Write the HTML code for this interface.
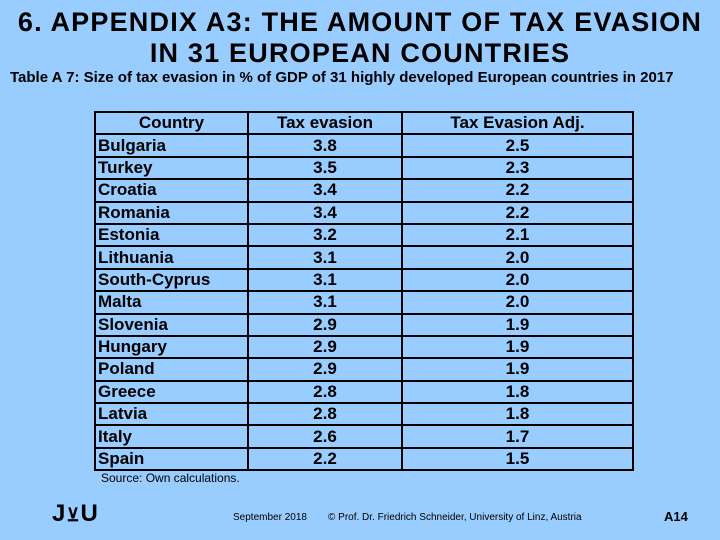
<!DOCTYPE html>
<html><head><meta charset="utf-8"><style>
body{margin:0;width:720px;height:540px;background:#99ccff;font-family:"Liberation Sans",sans-serif;position:relative;overflow:hidden;color:#000}
.t{position:absolute;left:0;width:720px;text-align:center;font-weight:bold;font-size:27px;letter-spacing:1.2px;line-height:31px}
table{position:absolute;left:94px;top:111px;border-collapse:collapse;font-weight:bold;font-size:17px}
td{border:2px solid #000;height:20.4px;padding:0 2px;line-height:20px}
td.n{text-align:center}
</style></head><body>
<div class="t" style="top:7px">6. APPENDIX A3: THE AMOUNT OF TAX EVASION</div>
<div class="t" style="top:38px">IN 31 EUROPEAN COUNTRIES</div>
<div style="position:absolute;left:10px;top:69px;font-size:15px;font-weight:bold">Table A 7: Size of tax evasion in % of GDP of 31 highly developed European countries in 2017</div>
<table>
<tr><td class="n" style="width:147px">Country</td><td class="n" style="width:148px">Tax evasion</td><td class="n" style="width:225px">Tax Evasion Adj.</td></tr>
<tbody id="b"></tbody>
</table>
<div style="position:absolute;left:101px;top:471px;font-size:12px">Source: Own calculations.</div>
<div style="position:absolute;left:52px;top:500px;font-size:24px;font-weight:bold;letter-spacing:1px">J<span style="font-size:18px">⊻</span>U</div>
<div style="position:absolute;left:233px;top:512px;font-size:10px">September 2018</div>
<div style="position:absolute;left:328px;top:512px;font-size:10px">© Prof. Dr. Friedrich Schneider, University of Linz, Austria</div>
<div style="position:absolute;left:664px;top:509px;font-size:13px;font-weight:bold">A14</div>
<script>
const countries=["Bulgaria","Turkey","Croatia","Romania","Estonia","Lithuania","South-Cyprus","Malta","Slovenia","Hungary","Poland","Greece","Latvia","Italy","Spain"];
const taxEvasion=["3.8","3.5","3.4","3.4","3.2","3.1","3.1","3.1","2.9","2.9","2.9","2.8","2.8","2.6","2.2"];
const taxEvasionAdj=["2.5","2.3","2.2","2.2","2.1","2.0","2.0","2.0","1.9","1.9","1.9","1.8","1.8","1.7","1.5"];
const b=document.getElementById('b');
countries.forEach((c,i)=>{
const tr=document.createElement('tr');


[c,taxEvasion[i],taxEvasionAdj[i]].forEach((v,j)=>{
const td=document.createElement('td');


if(j)td.className='n';
td.textContent=v;tr.appendChild(td);});
b.appendChild(tr);});
</script>
</body></html>
